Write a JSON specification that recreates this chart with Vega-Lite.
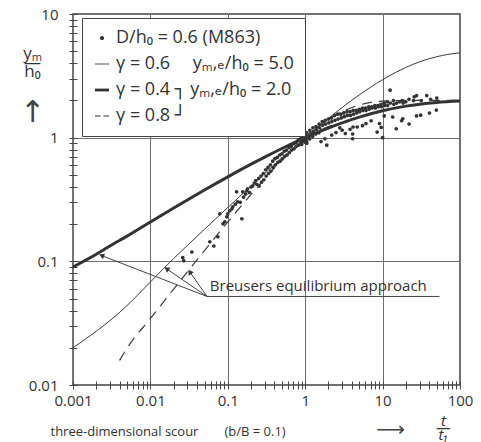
{
  "$schema": "https://vega.github.io/schema/vega-lite/v6.json",
  "width": 387,
  "height": 371,
  "autosize": "none",
  "padding": {"left": 73, "top": 14, "right": 21, "bottom": 57},
  "background": "white",
  "config": {
    "view": {"stroke": "#444", "strokeWidth": 1.5},
    "font": "Open Sans, DejaVu Sans"
  },
  "datasets": {
    "pts": [
      {"t":0.0262,"y":0.107},{"t":0.0343,"y":0.119},{"t":0.027,"y":0.101},{"t":0.0586,"y":0.144},{"t":0.066,"y":0.133},
      {"t":0.0743,"y":0.158},{"t":0.0788,"y":0.242},{"t":0.0866,"y":0.201},{"t":0.0914,"y":0.209},{"t":0.097,"y":0.229},
      {"t":0.1,"y":0.242},{"t":0.106,"y":0.256},{"t":0.113,"y":0.266},{"t":0.116,"y":0.276},{"t":0.13,"y":0.365},
      {"t":0.134,"y":0.303},{"t":0.152,"y":0.221},{"t":0.156,"y":0.365},{"t":0.176,"y":0.372},{"t":0.18,"y":0.386},
      {"t":0.21,"y":0.407},{"t":0.237,"y":0.42},{"t":0.2,"y":0.4},{"t":0.22,"y":0.43},{"t":0.19,"y":0.36},
      {"t":0.16,"y":0.33},{"t":0.145,"y":0.3},{"t":0.125,"y":0.29},{"t":0.17,"y":0.35},{"t":0.23,"y":0.45},
      {"t":0.251,"y":0.468},{"t":0.254,"y":0.407},{"t":0.269,"y":0.49},{"t":0.273,"y":0.437},{"t":0.288,"y":0.513},
      {"t":0.292,"y":0.457},{"t":0.309,"y":0.55},{"t":0.313,"y":0.49},{"t":0.331,"y":0.575},{"t":0.336,"y":0.513},
      {"t":0.355,"y":0.603},{"t":0.36,"y":0.537},{"t":0.38,"y":0.646},{"t":0.386,"y":0.575},{"t":0.407,"y":0.676},
      {"t":0.413,"y":0.603},{"t":0.437,"y":0.692},{"t":0.443,"y":0.631},{"t":0.468,"y":0.724},{"t":0.475,"y":0.646},
      {"t":0.501,"y":0.741},{"t":0.508,"y":0.676},{"t":0.537,"y":0.776},{"t":0.545,"y":0.708},{"t":0.575,"y":0.794},
      {"t":0.584,"y":0.724},{"t":0.617,"y":0.832},{"t":0.626,"y":0.759},{"t":0.661,"y":0.851},{"t":0.671,"y":0.794},
      {"t":0.708,"y":0.891},{"t":0.718,"y":0.813},{"t":0.759,"y":0.912},{"t":0.77,"y":0.851},{"t":0.813,"y":0.955},
      {"t":0.825,"y":0.871},{"t":0.871,"y":0.977},{"t":0.884,"y":0.912},{"t":0.933,"y":1.0},{"t":0.947,"y":0.933},
      {"t":1.0,"y":1.047},{"t":1.01,"y":0.955},{"t":0.99,"y":1.0},{"t":0.95,"y":1.05},{"t":1.05,"y":0.9},
      {"t":0.9,"y":0.88},{"t":1.1,"y":1.0},{"t":1.0,"y":0.92},{"t":1.02,"y":1.1},
      {"t":1.047,"y":1.096},{"t":1.06,"y":1.023},{"t":1.04,"y":0.933},
      {"t":1.148,"y":1.148},{"t":1.16,"y":1.072},{"t":1.14,"y":0.977},
      {"t":1.259,"y":1.202},{"t":1.27,"y":1.122},{"t":1.25,"y":1.023},
      {"t":1.38,"y":1.23},{"t":1.39,"y":1.164},{"t":1.37,"y":1.072},
      {"t":1.514,"y":1.288},{"t":1.53,"y":1.202},{"t":1.5,"y":1.096},
      {"t":1.66,"y":1.349},{"t":1.68,"y":1.259},{"t":1.64,"y":1.148},
      {"t":1.82,"y":1.38},{"t":1.84,"y":1.288},{"t":1.8,"y":1.175},
      {"t":1.995,"y":1.413},{"t":2.02,"y":1.318},{"t":1.97,"y":1.202},
      {"t":2.188,"y":1.445},{"t":2.21,"y":1.349},{"t":2.16,"y":1.23},
      {"t":2.399,"y":1.514},{"t":2.43,"y":1.38},{"t":2.63,"y":1.549},{"t":2.66,"y":1.413},
      {"t":2.884,"y":1.549},{"t":2.92,"y":1.445},{"t":3.162,"y":1.585},{"t":3.2,"y":1.479},
      {"t":3.467,"y":1.622},{"t":3.51,"y":1.514},{"t":3.802,"y":1.622},{"t":3.85,"y":1.514},
      {"t":4.169,"y":1.66},{"t":4.22,"y":1.549},{"t":4.571,"y":1.66},{"t":4.63,"y":1.585},
      {"t":5.012,"y":1.698},{"t":5.07,"y":1.622},{"t":5.495,"y":1.738},{"t":5.56,"y":1.66},
      {"t":6.026,"y":1.738},{"t":6.1,"y":1.66},{"t":6.607,"y":1.778},{"t":6.69,"y":1.698},
      {"t":7.244,"y":1.778},{"t":7.33,"y":1.738},{"t":7.943,"y":1.82},{"t":8.04,"y":1.738},
      {"t":8.71,"y":1.82},{"t":8.82,"y":1.778},{"t":9.55,"y":1.862},{"t":9.67,"y":1.778},
      {"t":1.8,"y":0.98},{"t":1.9,"y":0.87},{"t":2.2,"y":1.05},{"t":2.5,"y":1.1},{"t":3.0,"y":1.15},
      {"t":3.3,"y":1.08},{"t":3.8,"y":1.17},{"t":4.1,"y":1.07},{"t":4.1,"y":0.98},{"t":4.15,"y":1.22},
      {"t":4.7,"y":1.22},{"t":5.5,"y":1.25},{"t":6.1,"y":1.3},{"t":7.1,"y":1.37},{"t":8.5,"y":1.11},
      {"t":9.1,"y":1.3},{"t":9.6,"y":1.21},{"t":10,"y":1.0},{"t":10.5,"y":1.5},{"t":13.5,"y":1.47},
      {"t":15,"y":1.18},{"t":17.6,"y":1.37},{"t":18.2,"y":1.42},{"t":22,"y":1.29},{"t":27.4,"y":1.5},
      {"t":31,"y":1.52},{"t":40.3,"y":1.58},{"t":49.5,"y":1.67},{"t":2.8,"y":1.2},{"t":1.6,"y":0.93},
      {"t":10.47,"y":1.905},{"t":10.6,"y":1.82},{"t":11.48,"y":1.95},{"t":11.6,"y":1.82},{"t":12.59,"y":1.905},
      {"t":13.8,"y":1.995},{"t":13.95,"y":1.862},{"t":15.14,"y":1.905},{"t":16.6,"y":1.95},{"t":18.0,"y":1.995},
      {"t":18.4,"y":1.905},{"t":19.95,"y":1.95},{"t":21.9,"y":2.042},{"t":25.1,"y":1.995},{"t":25.6,"y":2.138},
      {"t":27.5,"y":2.188},{"t":31.6,"y":1.995},{"t":37.2,"y":2.188},{"t":41.7,"y":2.042},{"t":50.1,"y":2.089},
      {"t":12.5,"y":2.42}
    ],
    "curves": [
      {"g":"0.6","t":0.001,"y":0.02},{"g":"0.6","t":0.0045,"y":0.0413},{"g":"0.6","t":0.01,"y":0.068},
      {"g":"0.6","t":0.02,"y":0.1056},{"g":"0.6","t":0.03,"y":0.1343},{"g":"0.6","t":0.05,"y":0.1815},
      {"g":"0.6","t":0.07,"y":0.2212},{"g":"0.6","t":0.1,"y":0.2725},{"g":"0.6","t":0.2,"y":0.407},
      {"g":"0.6","t":0.3,"y":0.5136},{"g":"0.6","t":0.5,"y":0.6845},{"g":"0.6","t":0.7,"y":0.8243},
      {"g":"0.6","t":1,"y":1.0},{"g":"0.6","t":1.5,"y":1.2386},{"g":"0.6","t":2,"y":1.4348},
      {"g":"0.6","t":3,"y":1.752},{"g":"0.6","t":5,"y":2.2175},{"g":"0.6","t":7,"y":2.56},
      {"g":"0.6","t":10,"y":2.943},{"g":"0.6","t":15,"y":3.39},{"g":"0.6","t":20,"y":3.699},
      {"g":"0.6","t":30,"y":4.102},{"g":"0.6","t":50,"y":4.515},{"g":"0.6","t":70,"y":4.712},
      {"g":"0.6","t":100,"y":4.854},
      {"g":"0.4","t":0.001,"y":0.09},{"g":"0.4","t":0.002,"y":0.114},{"g":"0.4","t":0.003,"y":0.133},
      {"g":"0.4","t":0.005,"y":0.16},{"g":"0.4","t":0.01,"y":0.2081},{"g":"0.4","t":0.02,"y":0.2699},
      {"g":"0.4","t":0.03,"y":0.3135},{"g":"0.4","t":0.05,"y":0.3775},{"g":"0.4","t":0.1,"y":0.4823},
      {"g":"0.4","t":0.2,"y":0.6103},{"g":"0.4","t":0.3,"y":0.6967},{"g":"0.4","t":0.5,"y":0.8172},
      {"g":"0.4","t":1,"y":1.0},{"g":"0.4","t":2,"y":1.1987},{"g":"0.4","t":3,"y":1.3178},
      {"g":"0.4","t":5,"y":1.4655},{"g":"0.4","t":10,"y":1.6493},{"g":"0.4","t":20,"y":1.7989},
      {"g":"0.4","t":30,"y":1.8658},{"g":"0.4","t":50,"y":1.9273},{"g":"0.4","t":100,"y":1.9748},
      {"g":"0.8","t":0.004,"y":0.0158},{"g":"0.8","t":0.005,"y":0.0199},{"g":"0.8","t":0.01,"y":0.0345},
      {"g":"0.8","t":0.02,"y":0.0597},{"g":"0.8","t":0.03,"y":0.0821},{"g":"0.8","t":0.05,"y":0.1223},
      {"g":"0.8","t":0.1,"y":0.2081},{"g":"0.8","t":0.2,"y":0.3482},{"g":"0.8","t":0.3,"y":0.465},
      {"g":"0.8","t":0.5,"y":0.6568},{"g":"0.8","t":1,"y":1.0},{"g":"0.8","t":2,"y":1.4017},
      {"g":"0.8","t":3,"y":1.6232},{"g":"0.8","t":5,"y":1.8378},{"g":"0.8","t":10,"y":1.9748},
      {"g":"0.8","t":20,"y":1.999},{"g":"0.8","t":50,"y":2.0},{"g":"0.8","t":100,"y":2.0}
    ],
    "arrows": [
      {"id":"a1","t":0.054,"y":0.052,"t2":0.00234,"y2":0.1114},
      {"id":"a2","t":0.054,"y":0.052,"t2":0.0162,"y2":0.087},
      {"id":"a3","t":0.054,"y":0.052,"t2":0.0323,"y2":0.0822},
      {"id":"u","t":0.054,"y":0.052,"t2":54.3,"y2":0.052}
    ],
    "note": [
      {"t":0.0586,"y":0.0634,"label":"Breusers equilibrium approach"}
    ]
  },
  "layer": [
    {
      "data": {"name": "pts"},
      "mark": {"type": "point", "filled": true, "size": 150, "color": "#333", "opacity": 1, "strokeWidth": 0},
      "encoding": {
        "x": {"field": "t", "type": "quantitative",
          "scale": {"type": "log", "domain": [0.001, 100], "nice": false},
          "axis": {
            "orient": "bottom",
            "values": [0.001,0.002,0.003,0.004,0.005,0.006,0.007,0.008,0.009,0.01,0.02,0.03,0.04,0.05,0.06,0.07,0.08,0.09,0.1,0.2,0.3,0.4,0.5,0.6,0.7,0.8,0.9,1,2,3,4,5,6,7,8,9,10,20,30,40,50,60,70,80,90,100],
            "labelExpr": "datum.value == 0.001 ? '0.001' : datum.value == 0.01 ? '0.01' : datum.value == 0.1 ? '0.1' : datum.value == 1 ? '1' : datum.value == 10 ? '10' : datum.value == 100 ? '100' : ''",
            "labelOverlap": false, "labelFlush": false, "labelBound": false,
            "labelFontSize": 15, "labelColor": "#333", "labelPadding": 4, "labelFont": "Open Sans",
            "domain": false, "ticks": true, "tickSize": 4, "tickColor": "#444", "tickWidth": 1,
            "grid": true, "gridColor": "#6e6e6e", "gridWidth": 1,
            "gridOpacity": {"condition": {"test": "datum.value == 0.01 || datum.value == 0.1 || datum.value == 1 || datum.value == 10", "value": 1}, "value": 0},
            "title": "three-dimensional scour\u2003\u2003(b/B = 0.1)",
            "titleFontSize": 13, "titleFontWeight": "normal", "titleColor": "#333", "titleFont": "Open Sans",
            "titleAlign": "left", "titleAnchor": "start", "titleX": -23, "titleY": 46, "titleBaseline": "middle"
          }
        },
        "y": {"field": "y", "type": "quantitative",
          "scale": {"type": "log", "domain": [0.01, 10], "nice": false},
          "axis": {
            "orient": "left",
            "values": [0.01,0.02,0.03,0.04,0.05,0.06,0.07,0.08,0.09,0.1,0.2,0.3,0.4,0.5,0.6,0.7,0.8,0.9,1,2,3,4,5,6,7,8,9,10],
            "labelExpr": "datum.value == 0.01 ? '0.01' : datum.value == 0.1 ? '0.1' : datum.value == 1 ? '1' : datum.value == 10 ? '10' : ''",
            "labelOverlap": false, "labelFlush": false, "labelBound": false,
            "labelFontSize": 15, "labelColor": "#333", "labelPadding": 11, "labelFont": "Open Sans",
            "domain": false, "ticks": true, "tickSize": 4, "tickColor": "#444", "tickWidth": 1,
            "grid": true, "gridColor": "#6e6e6e", "gridWidth": 1,
            "gridOpacity": {"condition": {"test": "datum.value == 0.1 || datum.value == 1", "value": 1}, "value": 0},
            "title": ["yₘ", "—", "h₀"],
            "titleFontSize": 17, "titleFontWeight": "normal", "titleColor": "#333", "titleFont": "Open Sans, DejaVu Sans",
            "titleAngle": 0, "titleAlign": "center", "titleBaseline": "alphabetic", "titleLineHeight": 9,
            "titleX": -41, "titleY": 44
          }
        },
        "shape": {
          "datum": "D/h₀ = 0.6 (M863)", "type": "nominal",
          "scale": {
            "domain": ["D/h₀ = 0.6 (M863)", "γ = 0.6\u2003 yₘ,ₑ/h₀ = 5.0", "γ = 0.4 ┐ yₘ,ₑ/h₀ = 2.0", "γ = 0.8 ┘"],
            "range": [
              "M-0.3,0A0.3,0.3,0,1,1,0.3,0A0.3,0.3,0,1,1,-0.3,0Z",
              "M-1,-0.06H1V0.06H-1Z",
              "M-1,-0.2H1V0.2H-1Z",
              "M-1,-0.07H-0.2V0.07H-1Z M0.2,-0.07H1V0.07H0.2Z"
            ]
          },
          "legend": {
            "title": null, "orient": "none", "legendX": 9, "legendY": 4,
            "padding": 11, "fillColor": "white", "strokeColor": "#444",
            "labelFontSize": 18, "labelFont": "Open Sans, DejaVu Sans", "labelColor": "#333", "labelLimit": 320,
            "symbolSize": 196, "symbolFillColor": "#333", "symbolStrokeColor": "#333", "symbolStrokeWidth": 0,
            "symbolOpacity": 1, "rowPadding": 8, "labelOffset": 5
          }
        }
      }
    },
    {
      "data": {"name": "curves"},
      "transform": [{"filter": "datum.g == '0.6'"}],
      "mark": {"type": "line", "color": "#3a3a3a", "strokeWidth": 1, "interpolate": "monotone"},
      "encoding": {
        "x": {"field": "t", "type": "quantitative",
          "scale": {"type": "log", "domain": [0.001, 100], "nice": false},
          "axis": {
            "orient": "bottom",
            "values": [0.001,0.002,0.003,0.004,0.005,0.006,0.007,0.008,0.009,0.01,0.02,0.03,0.04,0.05,0.06,0.07,0.08,0.09,0.1,0.2,0.3,0.4,0.5,0.6,0.7,0.8,0.9,1,2,3,4,5,6,7,8,9,10,20,30,40,50,60,70,80,90,100],
            "labels": false, "domain": false, "grid": false, "ticks": true, "tickSize": -4, "tickColor": "#444", "tickWidth": 1,
            "title": ["t", "—", "t₁"],
            "titleFontSize": 15, "titleFontWeight": "normal", "titleFontStyle": "italic", "titleColor": "#333", "titleFont": "Open Sans, DejaVu Sans",
            "titleAlign": "center", "titleBaseline": "alphabetic", "titleLineHeight": 7,
            "titleX": 370, "titleY": 40
          }
        },
        "y": {"field": "y", "type": "quantitative",
          "scale": {"type": "log", "domain": [0.01, 10], "nice": false},
          "axis": {
            "orient": "left",
            "values": [0.01,0.02,0.03,0.04,0.05,0.06,0.07,0.08,0.09,0.1,0.2,0.3,0.4,0.5,0.6,0.7,0.8,0.9,1,2,3,4,5,6,7,8,9,10],
            "labels": false, "domain": false, "grid": false, "ticks": true, "tickSize": -4, "tickColor": "#444", "tickWidth": 1,
            "title": "↑",
            "titleFontSize": 30, "titleFontWeight": "normal", "titleColor": "#444", "titleFont": "Noto Sans, DejaVu Sans",
            "titleAngle": 0, "titleAlign": "center", "titleBaseline": "middle",
            "titleX": -41, "titleY": 98
          }
        }
      }
    },
    {
      "data": {"name": "curves"},
      "transform": [{"filter": "datum.g == '0.4'"}],
      "mark": {"type": "line", "color": "#333", "strokeWidth": 3, "interpolate": "monotone"},
      "encoding": {
        "x": {"field": "t", "type": "quantitative", "scale": {"type": "log", "domain": [0.001, 100], "nice": false}, "axis": null},
        "y": {"field": "y", "type": "quantitative", "scale": {"type": "log", "domain": [0.01, 10], "nice": false}, "axis": null}
      }
    },
    {
      "data": {"name": "curves"},
      "transform": [{"filter": "datum.g == '0.8'"}],
      "mark": {"type": "line", "color": "#3a3a3a", "strokeWidth": 1.2, "strokeDash": [10, 7], "interpolate": "monotone"},
      "encoding": {
        "x": {"field": "t", "type": "quantitative", "scale": {"type": "log", "domain": [0.001, 100], "nice": false}, "axis": null},
        "y": {"field": "y", "type": "quantitative", "scale": {"type": "log", "domain": [0.01, 10], "nice": false}, "axis": null}
      }
    },
    {
      "data": {"name": "arrows"},
      "mark": {"type": "rule", "color": "#444", "strokeWidth": 1},
      "encoding": {
        "x": {"field": "t", "type": "quantitative", "scale": {"type": "log", "domain": [0.001, 100], "nice": false}, "axis": null},
        "y": {"field": "y", "type": "quantitative", "scale": {"type": "log", "domain": [0.01, 10], "nice": false}, "axis": null},
        "x2": {"field": "t2"},
        "y2": {"field": "y2"}
      }
    },
    {
      "data": {"name": "arrows"},
      "transform": [{"filter": "datum.id == 'a1'"}],
      "mark": {"type": "point", "shape": "triangle-up", "filled": true, "size": 36, "color": "#333", "opacity": 1, "angle": 291},
      "encoding": {
        "x": {"field": "t2", "type": "quantitative", "scale": {"type": "log", "domain": [0.001, 100], "nice": false}, "axis": null},
        "y": {"field": "y2", "type": "quantitative", "scale": {"type": "log", "domain": [0.01, 10], "nice": false}, "axis": null}
      }
    },
    {
      "data": {"name": "arrows"},
      "transform": [{"filter": "datum.id == 'a2'"}],
      "mark": {"type": "point", "shape": "triangle-up", "filled": true, "size": 36, "color": "#333", "opacity": 1, "angle": 304},
      "encoding": {
        "x": {"field": "t2", "type": "quantitative", "scale": {"type": "log", "domain": [0.001, 100], "nice": false}, "axis": null},
        "y": {"field": "y2", "type": "quantitative", "scale": {"type": "log", "domain": [0.01, 10], "nice": false}, "axis": null}
      }
    },
    {
      "data": {"name": "arrows"},
      "transform": [{"filter": "datum.id == 'a3'"}],
      "mark": {"type": "point", "shape": "triangle-up", "filled": true, "size": 36, "color": "#333", "opacity": 1, "angle": 325},
      "encoding": {
        "x": {"field": "t2", "type": "quantitative", "scale": {"type": "log", "domain": [0.001, 100], "nice": false}, "axis": null},
        "y": {"field": "y2", "type": "quantitative", "scale": {"type": "log", "domain": [0.01, 10], "nice": false}, "axis": null}
      }
    },
    {
      "data": {"name": "note"},
      "mark": {"type": "text", "align": "left", "baseline": "middle", "fontSize": 15, "color": "#333", "font": "Open Sans"},
      "encoding": {
        "x": {"field": "t", "type": "quantitative",
          "scale": {"type": "log", "domain": [0.001, 100], "nice": false},
          "axis": {
            "orient": "bottom", "labels": false, "domain": false, "grid": false, "ticks": false,
            "title": "⟶",
            "titleFontSize": 20, "titleFontWeight": "normal", "titleColor": "#444", "titleFont": "DejaVu Sans",
            "titleAlign": "center", "titleBaseline": "middle", "titleX": 317, "titleY": 44
          }
        },
        "y": {"field": "y", "type": "quantitative", "scale": {"type": "log", "domain": [0.01, 10], "nice": false}, "axis": null},
        "text": {"field": "label"}
      }
    }
  ],
  "resolve": {"axis": {"x": "independent", "y": "independent"}}
}
